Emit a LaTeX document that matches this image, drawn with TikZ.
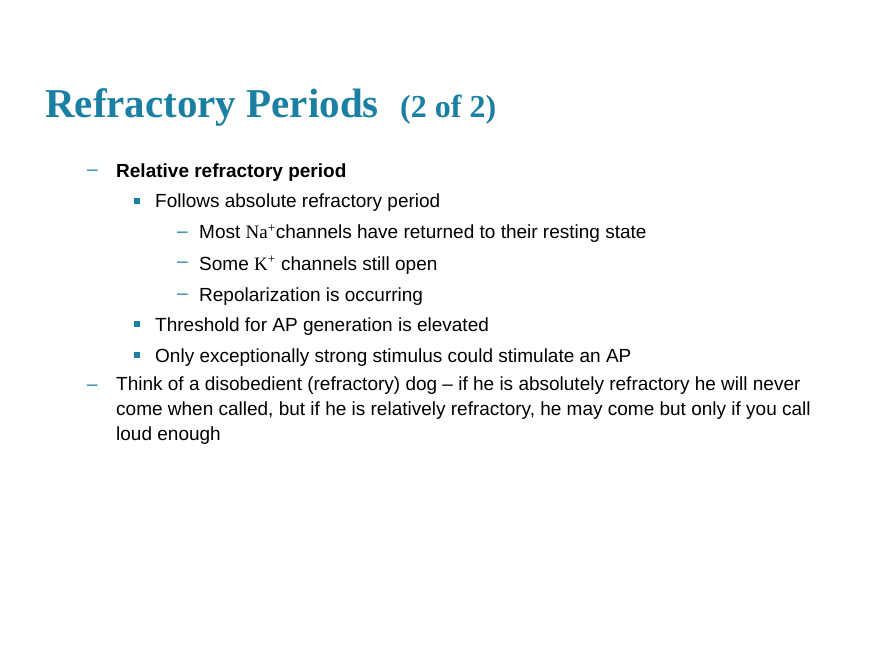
\documentclass[tikz,border=0pt]{standalone}
\usepackage{fontspec}
\setmainfont{Liberation Sans}
\newfontfamily\tms{Liberation Serif}
\definecolor{teal1}{HTML}{1A7FA3}
\begin{document}
\begin{tikzpicture}[x=1pt,y=-1pt,
 txt/.style={anchor=base west,inner sep=0pt,font=\fontsize{19}{23}\selectfont},
 dsh/.style={anchor=base west,inner sep=0pt,text=teal1,font=\fontsize{19}{23}\selectfont},
 sq/.style={fill=teal1,minimum size=5.5pt,inner sep=0pt}]
\useasboundingbox (0,0) rectangle (880,660);
\node[anchor=base west,inner sep=0pt,text=teal1,font=\tms\bfseries\fontsize{41}{44}\selectfont] (title) at (45,118) {Refractory Periods};
\node[anchor=base west,inner sep=0pt,text=teal1,font=\tms\bfseries\fontsize{32}{35}\selectfont] (sub) at (400,118) {(2 of 2)};
\node[dsh] (d1) at (87,176) {–};
\node[txt,font=\bfseries\fontsize{19}{23}\selectfont] (t1) at (116,178) {Relative refractory period};
\node[sq] (s1) at (137,201) {};
\node[txt] (t2) at (155,208) {Follows absolute refractory period};
\node[dsh] (d2) at (177,237) {–};
\node[txt] (t3) at (199,239) {Most {\tms Na\textsuperscript{+}}channels have returned to their resting state};
\node[dsh] (d3) at (177,268) {–};
\node[txt] (t4) at (199,270) {Some {\tms K\textsuperscript{+}} channels still open};
\node[dsh] (d4) at (177,299) {–};
\node[txt] (t5) at (199,301) {Repolarization is occurring};
\node[sq] (s2) at (137,324) {};
\node[txt] (t6) at (155,331) {Threshold for AP generation is elevated};
\node[sq] (s3) at (137,355) {};
\node[txt] (t7) at (155,362) {Only exceptionally strong stimulus could stimulate an AP};
\node[dsh] (d5) at (87,390) {–};
\node[txt,align=left,font=\fontsize{19}{25}\selectfont,anchor=north west] (t8) at (116,377) {Think of a disobedient (refractory) dog – if he is absolutely refractory he will never\\come when called, but if he is relatively refractory, he may come but only if you call\\loud enough};
\end{tikzpicture}
\end{document}
